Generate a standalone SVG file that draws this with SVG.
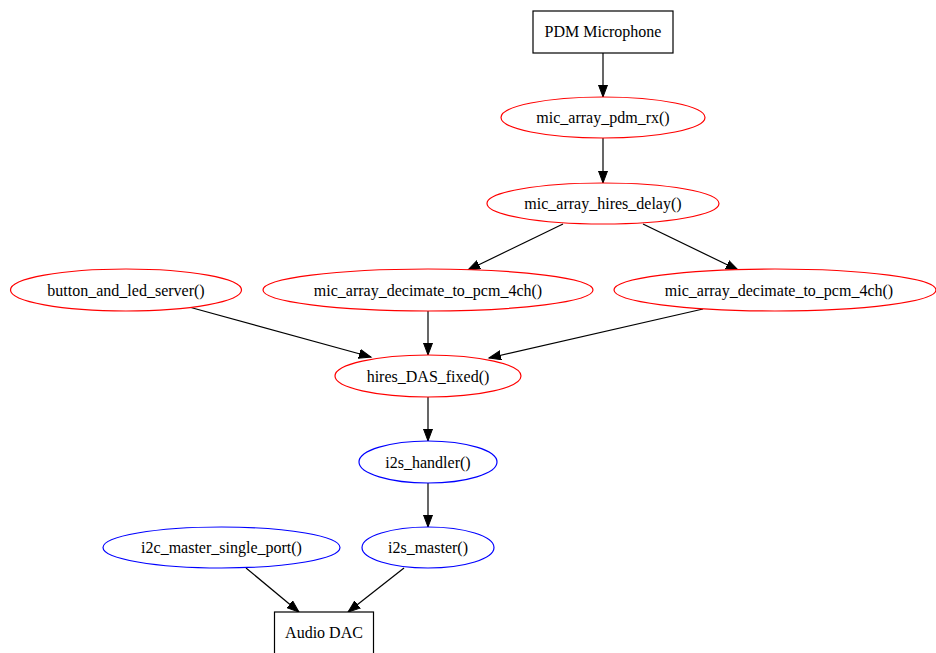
<svg xmlns="http://www.w3.org/2000/svg" width="936" height="653" viewBox="0 0 936 653">
<defs>
<marker id="arr" markerUnits="userSpaceOnUse" markerWidth="14" markerHeight="10" refX="12" refY="5" orient="auto">
<polygon points="0,0.5 12,5 0,9.5" fill="#000" stroke="#000" stroke-width="1"/>
</marker>
<style>
text{font-family:"Liberation Serif","Times New Roman",serif;font-size:16px;fill:#000;text-anchor:middle}
.r{fill:#fff;stroke:#f00;stroke-width:1.2}
.b{fill:#fff;stroke:#00f;stroke-width:1.2}
.box{fill:#fff;stroke:#000;stroke-width:1.2}
#edges line{stroke:#000;stroke-width:1.2;marker-end:url(#arr)}
</style>
</defs>
<rect width="936" height="653" fill="#fff"/>
<g id="edges">
<line x1="603" y1="53" x2="603" y2="97"/>
<line x1="603" y1="138" x2="603" y2="183"/>
<line x1="563" y1="224" x2="468" y2="270"/>
<line x1="643" y1="224" x2="738" y2="270"/>
<line x1="189" y1="307" x2="371" y2="357"/>
<line x1="428" y1="311" x2="428" y2="355"/>
<line x1="703" y1="309" x2="489" y2="358"/>
<line x1="428" y1="397" x2="428" y2="441"/>
<line x1="428" y1="483" x2="428" y2="527"/>
<line x1="246" y1="568" x2="299" y2="612"/>
<line x1="404" y1="568" x2="348" y2="612"/>
</g>
<g id="pdm"><rect class="box" x="533" y="11" width="140" height="42"/><text x="603" y="37">PDM Microphone</text></g>
<g id="pdm_rx"><ellipse class="r" cx="603" cy="117.5" rx="102" ry="20.5"/><text x="603" y="123">mic_array_pdm_rx()</text></g>
<g id="hires_delay"><ellipse class="r" cx="603" cy="203.5" rx="116" ry="20.5"/><text x="603" y="209">mic_array_hires_delay()</text></g>
<g id="button"><ellipse class="r" cx="126" cy="290" rx="115.5" ry="21"/><text x="126" y="296">button_and_led_server()</text></g>
<g id="decimate1"><ellipse class="r" cx="428" cy="290" rx="165" ry="21"/><text x="428" y="296">mic_array_decimate_to_pcm_4ch()</text></g>
<g id="decimate2"><ellipse class="r" cx="775" cy="290" rx="161" ry="21"/><text x="779" y="296">mic_array_decimate_to_pcm_4ch()</text></g>
<g id="das"><ellipse class="r" cx="428" cy="376" rx="93" ry="21"/><text x="428" y="382">hires_DAS_fixed()</text></g>
<g id="i2s_handler"><ellipse class="b" cx="428" cy="462" rx="69" ry="21"/><text x="428" y="468">i2s_handler()</text></g>
<g id="i2s_master"><ellipse class="b" cx="428" cy="547.5" rx="66" ry="20.5"/><text x="428" y="553">i2s_master()</text></g>
<g id="i2c"><ellipse class="b" cx="221.5" cy="547.5" rx="118.5" ry="20.5"/><text x="221.5" y="553">i2c_master_single_port()</text></g>
<g id="dac"><rect class="box" x="274.5" y="612" width="99" height="42"/><text x="324" y="638">Audio DAC</text></g>
</svg>
